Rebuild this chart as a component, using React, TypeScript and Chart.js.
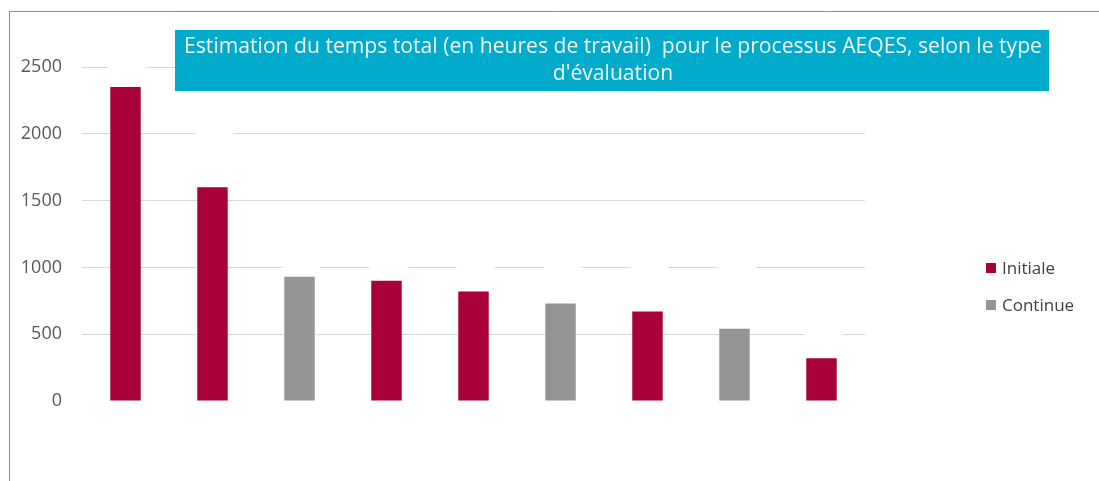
import React, { useEffect, useRef } from "react";
import { Chart, registerables } from "chart.js";

Chart.register(...registerables);

const categories = ["1", "2", "3", "4", "5", "6", "7", "8", "9"];
const initialeValues = [2350, 1600, null, 900, 820, null, 670, null, 320];
const continueValues = [null, null, 930, null, null, 730, null, 540, null];
const yTicks = [0, 500, 1000, 1500, 2000, 2500];
const seriesLabels = ["Initiale", "Continue"];
const seriesColors = ["#A80038", "#949494"];
const titleLines = [
  "Estimation du temps total (en heures de travail)  pour le processus AEQES, selon le type",
  "d'évaluation",
];

const FONT = "'Open Sans', 'Noto Sans', sans-serif";

const decorPlugin = {
  id: "decor",
  beforeDraw(chart: any) {
    const ctx = chart.ctx;
    ctx.save();
    ctx.fillStyle = "#ffffff";
    ctx.fillRect(0, 0, chart.width, chart.height);
    ctx.restore();
  },
  beforeDatasetsDraw(chart: any) {
    const ctx = chart.ctx;
    ctx.save();
    ctx.fillStyle = "#ffffff";
    chart.data.datasets.forEach((ds: any, di: number) => {
      const meta = chart.getDatasetMeta(di);
      meta.data.forEach((el: any, i: number) => {
        if (ds.data[i] == null) return;
        const w = 38;
        ctx.fillRect(el.x - w / 2 + 2, el.y - 75, w, 72);
      });
    });
    ctx.restore();
  },
  afterDraw(chart: any) {
    const ctx = chart.ctx;
    ctx.save();
    ctx.strokeStyle = "#8c8c8c";
    ctx.lineWidth = 1;
    ctx.beginPath();
    ctx.moveTo(9.5, chart.height);
    ctx.lineTo(9.5, 11.5);
    ctx.lineTo(chart.width, 11.5);
    ctx.stroke();

    const bx = 175, by = 30, bw = 874, bh = 61;
    ctx.fillStyle = "#00ABCB";
    ctx.fillRect(bx, by, bw, bh);
    ctx.fillStyle = "#F4F4F4";
    ctx.textAlign = "center";
    ctx.textBaseline = "middle";
    ctx.font = `18px ${FONT}`;
    const wMeas = ctx.measureText(titleLines[0]).width;
    const size = (18 * 858) / wMeas;
    ctx.font = `${size.toFixed(2)}px ${FONT}`;
    const cx = bx + bw / 2 + 1;
    ctx.fillText(titleLines[0], cx, 47);
    ctx.fillText(titleLines[1], cx, 74);

    ctx.textAlign = "left";
    ctx.font = `17px ${FONT}`;
    const ly = [268, 305];
    seriesLabels.forEach((lab, i) => {
      ctx.fillStyle = seriesColors[i];
      ctx.fillRect(986, ly[i] - 5, 10, 10);
      ctx.fillStyle = "#404040";
      ctx.fillText(lab, 1002, ly[i] + 1);
    });
    ctx.restore();
  },
};

export default function App() {
  const ref = useRef<HTMLCanvasElement | null>(null);
  useEffect(() => {
    document.body.style.margin = "0";
    const canvas = ref.current;
    if (!canvas) return;
    const chart = new Chart(canvas, {
      type: "bar",
      data: {
        labels: categories,
        datasets: [
          {
            label: seriesLabels[0],
            data: initialeValues,
            backgroundColor: seriesColors[0],
            grouped: false,
            categoryPercentage: 0.7,
            barPercentage: 0.5,
          } as any,
          {
            label: seriesLabels[1],
            data: continueValues,
            backgroundColor: seriesColors[1],
            grouped: false,
            categoryPercentage: 0.7,
            barPercentage: 0.5,
          } as any,
        ],
      },
      options: {
        animation: false,
        responsive: false,
        maintainAspectRatio: false,
        layout: { padding: { top: 67, bottom: 80, left: 0, right: 234 } },
        plugins: {
          legend: { display: false },
          title: { display: false },
          tooltip: { enabled: false },
        },
        scales: {
          x: {
            ticks: { display: false },
            grid: { display: false },
            border: { display: false },
            afterFit(scale: any) {
              scale.height = 0;
            },
          },
          y: {
            min: 0,
            max: 2500,
            afterBuildTicks(scale: any) {
              scale.ticks = yTicks.map((v) => ({ value: v }));
            },
            afterFit(scale: any) {
              scale.width = 82;
            },
            ticks: {
              padding: 20,
              color: "#595959",
              font: { family: FONT, size: 18 },
              callback: (v: any) => String(v),
            },
            grid: {
              color: (c: any) => (c.tick && c.tick.value === 0 ? "rgba(0,0,0,0)" : "#D9D9D9"),
              lineWidth: 1,
              drawTicks: false,
            },
            border: { display: false },
          },
        },
      },
      plugins: [decorPlugin],
    });
    return () => chart.destroy();
  }, []);
  return (
    <div style={{ width: 1099, height: 481, overflow: "hidden" }}>
      <canvas ref={ref} width={1099} height={481} style={{ display: "block" }} />
    </div>
  );
}
